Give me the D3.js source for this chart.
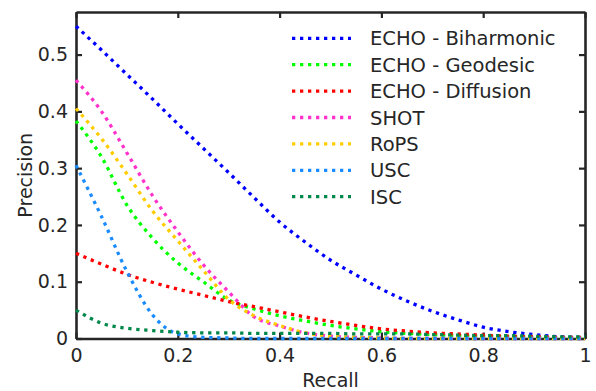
<!DOCTYPE html>
<html>
<head>
<meta charset="utf-8">
<script src="https://cdn.jsdelivr.net/npm/d3@7"></script>
<style>
  body { margin: 0; background: #fff; }
  text { font-family: "DejaVu Sans", sans-serif; fill: #262626; }
</style>
</head>
<body>
<script>
const width = 596;
const height = 391;
const margin = { top: 12, right: 11, bottom: 52.5, left: 76 };

// recall grid shared by every curve
const recall = [0, 0.05, 0.1, 0.15, 0.2, 0.25, 0.3, 0.35, 0.4, 0.45, 0.5,
  0.55, 0.6, 0.65, 0.7, 0.75, 0.8, 0.85, 0.9, 0.95, 1];

const seriesNames = ["ECHO - Biharmonic", "ECHO - Geodesic", "ECHO - Diffusion",
  "SHOT", "RoPS", "USC", "ISC"];
const seriesColors = ["#0000ff", "#00ff00", "#ff0000", "#ff33cc", "#ffcc00",
  "#1a8cff", "#00884a"];

const biharmonic = [0.55, 0.508, 0.465, 0.422, 0.378, 0.335, 0.292, 0.248, 0.205,
  0.17, 0.138, 0.112, 0.087, 0.066, 0.048, 0.033, 0.02, 0.012, 0.007, 0.003, 0.002];
const geodesic = [0.383, 0.32, 0.235, 0.177, 0.133, 0.1, 0.068, 0.052, 0.04,
  0.031, 0.023, 0.017, 0.012, 0.009, 0.007, 0.005, 0.004, 0.003, 0.002, 0.001, 0.001];
const diffusion = [0.15, 0.131, 0.113, 0.099, 0.087, 0.076, 0.065, 0.056, 0.047,
  0.038, 0.03, 0.023, 0.017, 0.013, 0.01, 0.008, 0.006, 0.004, 0.003, 0.002, 0.002];
const shot = [0.455, 0.4, 0.327, 0.252, 0.188, 0.13, 0.082, 0.038, 0.022,
  0.01, 0.004, 0.002, 0.001, 0, 0, 0, 0, 0, 0, 0, 0];
const rops = [0.405, 0.352, 0.29, 0.225, 0.172, 0.12, 0.069, 0.04, 0.023,
  0.01, 0.004, 0.002, 0.001, 0, 0, 0, 0, 0, 0, 0, 0];
const usc = [0.305, 0.215, 0.118, 0.042, 0.008, 0.002, 0.001, 0, 0,
  0, 0, 0, 0, 0, 0, 0, 0, 0, 0, 0, 0];
const isc = [0.05, 0.027, 0.018, 0.014, 0.011, 0.01, 0.01, 0.009, 0.009,
  0.009, 0.009, 0.008, 0.008, 0.008, 0.007, 0.006, 0.005, 0.005, 0.004, 0.003, 0.003];

const seriesValues = [biharmonic, geodesic, diffusion, shot, rops, usc, isc];

const xTicks = [0, 0.2, 0.4, 0.6, 0.8, 1];
const yTicks = [0, 0.1, 0.2, 0.3, 0.4, 0.5];

const svg = d3.select("body").append("svg")
  .attr("width", width)
  .attr("height", height);

const x = d3.scaleLinear().domain([0, 1]).range([margin.left, width - margin.right]);
const y = d3.scaleLinear().domain([0, 0.575]).range([height - margin.bottom, margin.top]);

const fmt = (d) => (d === 0 || d === 1 ? String(d) : d3.format(".1f")(d));

function styleAxis(g) {
  g.selectAll("path.domain").attr("stroke", "#262626").attr("stroke-width", 2.6);
  g.selectAll(".tick line").attr("stroke", "#262626").attr("stroke-width", 2.2);
  g.selectAll(".tick text").attr("font-size", "19px").attr("fill", "#262626")
    .attr("font-family", "DejaVu Sans");
}

// box axes with inward ticks
svg.append("g")
  .attr("transform", "translate(0," + y(0) + ")")
  .call(d3.axisBottom(x).tickValues(xTicks).tickFormat(fmt)
    .tickSizeInner(-6).tickSizeOuter(0).tickPadding(10))
  .call(styleAxis);

svg.append("g")
  .attr("transform", "translate(0," + margin.top + ")")
  .call(d3.axisTop(x).tickValues(xTicks).tickFormat("")
    .tickSizeInner(-6).tickSizeOuter(0))
  .call(styleAxis);

svg.append("g")
  .attr("transform", "translate(" + margin.left + ",0)")
  .call(d3.axisLeft(y).tickValues(yTicks).tickFormat(fmt)
    .tickSizeInner(-6).tickSizeOuter(0).tickPadding(8))
  .call(styleAxis);

svg.append("g")
  .attr("transform", "translate(" + (width - margin.right) + ",0)")
  .call(d3.axisRight(y).tickValues(yTicks).tickFormat("")
    .tickSizeInner(-6).tickSizeOuter(0))
  .call(styleAxis);

svg.append("text")
  .attr("x", (margin.left + width - margin.right) / 2)
  .attr("y", 387)
  .attr("text-anchor", "middle")
  .attr("font-size", "19px")
  .text("Recall");

svg.append("text")
  .attr("transform", "translate(32," + (margin.top + height - margin.bottom) / 2 + ") rotate(-90)")
  .attr("text-anchor", "middle")
  .attr("font-size", "19px")
  .text("Precision");

const line = d3.line()
  .x((d) => x(d[0]))
  .y((d) => y(d[1]))
  .curve(d3.curveMonotoneX);

svg.append("g")
  .selectAll("path.curve")
  .data(seriesValues)
  .enter()
  .append("path")
  .attr("class", "curve")
  .attr("d", (vals) => line(recall.map((r, i) => [r, vals[i]])))
  .attr("fill", "none")
  .attr("stroke", (d, i) => seriesColors[i])
  .attr("stroke-width", 3.3)
  .attr("stroke-dasharray", "3.3,4.7");

// legend
const legendX = 292;
const legendY = 38.3;
const legendStep = 26.4;

const legend = svg.append("g").attr("class", "legend");

legend.selectAll("line")
  .data(seriesNames)
  .enter()
  .append("line")
  .attr("x1", legendX)
  .attr("x2", legendX + 59)
  .attr("y1", (d, i) => legendY + i * legendStep)
  .attr("y2", (d, i) => legendY + i * legendStep)
  .attr("stroke", (d, i) => seriesColors[i])
  .attr("stroke-width", 3.3)
  .attr("stroke-dasharray", "3.3,4.7");

legend.selectAll("text")
  .data(seriesNames)
  .enter()
  .append("text")
  .attr("x", legendX + 78)
  .attr("y", (d, i) => legendY + i * legendStep)
  .attr("dy", "0.36em")
  .attr("font-size", "19.5px")
  .text((d) => d);
</script>
</body>
</html>
